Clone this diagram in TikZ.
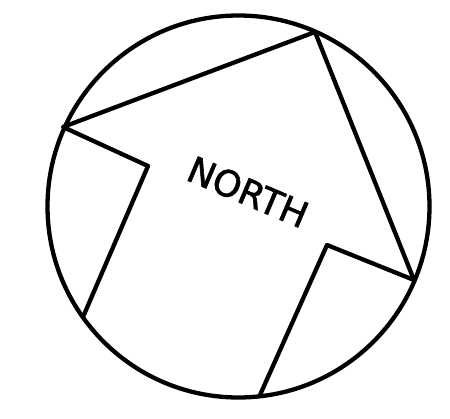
\documentclass[tikz,border=0pt]{standalone}
\usepackage{fontspec}
\newfontfamily\signfont{DejaVu Sans}[FakeBold=1.6]

\begin{document}
\begin{tikzpicture}[x=1pt, y=-1pt,
        outline/.style={line width=4.3pt, line join=round, line cap=round},
        signtext/.style={font=\signfont\fontsize{36}{40}\selectfont, rotate=-23}
    ]
    \useasboundingbox (0,0) rectangle (450,418);
    \draw[outline] (238.5,206.5) circle[radius=191pt];
    % arrow pointing north, its foot is the rim of the circle
    \coordinate (tipleft) at (63,127);
    \coordinate (tip) at (315,32);
    \coordinate (tipright) at (414,280);
    \coordinate (neckright) at (327,245);
    \coordinate (footright) at (260,395);
    \coordinate (footleft) at (83,317);
    \coordinate (neckleft) at (148,166);
    \draw[outline] (footleft) -- (neckleft) -- (tipleft) -- (tip) -- (tipright) -- (neckright) -- (footright);
    \node[signtext] (north) at (248,192) {NORTH};
    \end{tikzpicture}
\end{document}
